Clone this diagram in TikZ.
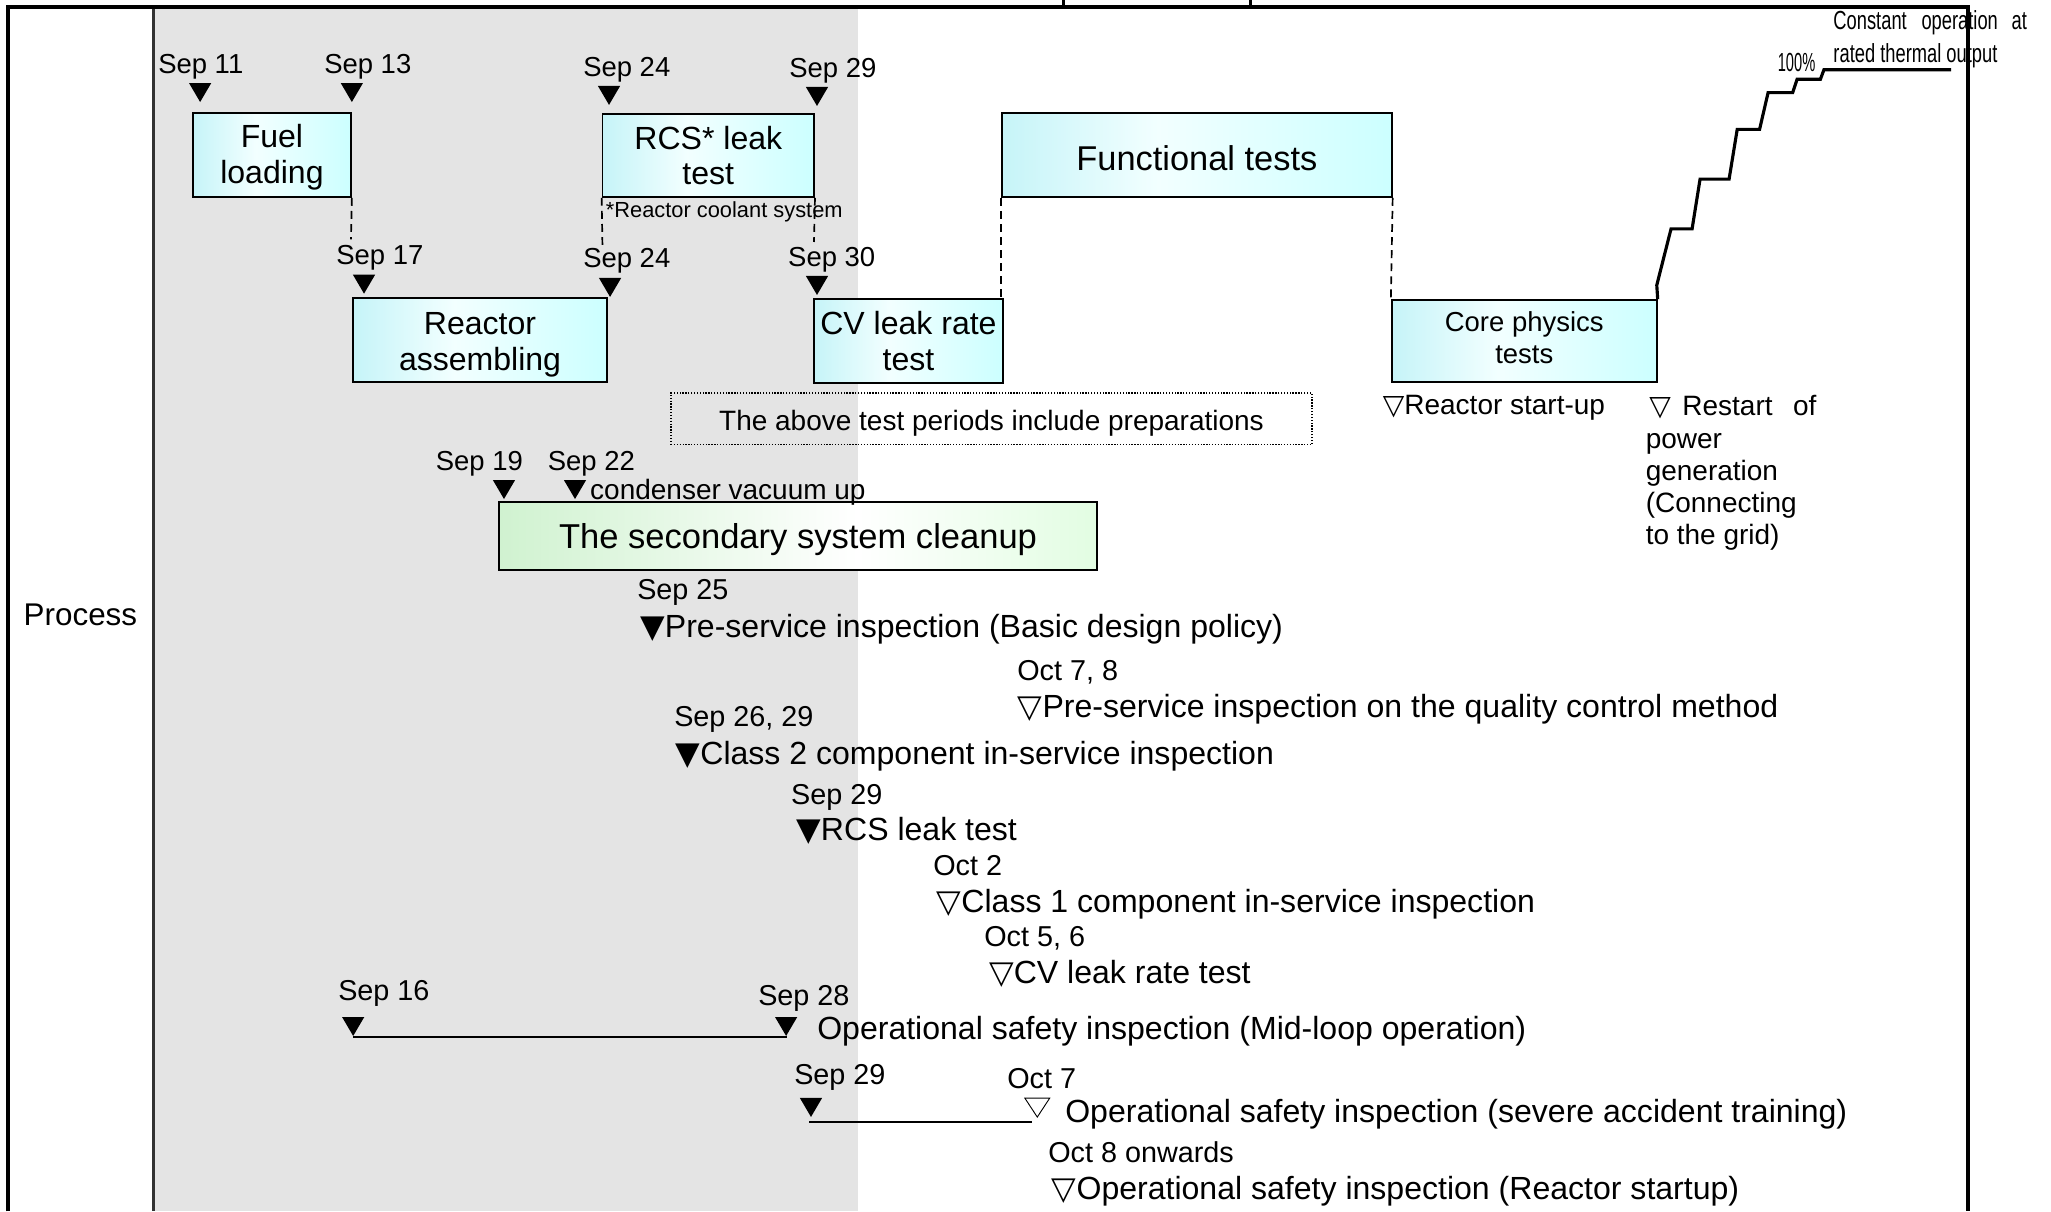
\documentclass[tikz,border=0pt]{standalone}
\usepackage{fontspec}
\setmainfont{Liberation Sans}
\newfontfamily\symf{DejaVu Sans}
\newfontfamily\narrowf[FakeStretch=0.70]{Liberation Sans}
\newfontfamily\narrowerf[FakeStretch=0.56]{Liberation Sans}
\newcommand\mytrifill{{\symf\char"25BC}}
\newcommand\mytriopen{{\symf\char"25BD}}
\definecolor{cyL}{RGB}{198,244,248}
\definecolor{cyM}{RGB}{242,255,255}
\definecolor{cyR}{RGB}{204,255,255}
\definecolor{grL}{RGB}{208,242,208}
\definecolor{grM}{RGB}{255,255,255}
\definecolor{grR}{RGB}{226,253,226}
\definecolor{bggrey}{RGB}{228,228,228}
\definecolor{divgrey}{RGB}{50,50,50}
\pgfdeclarehorizontalshading{cyanshade}{100bp}{color(0bp)=(cyL); color(25bp)=(cyL); color(45bp)=(cyM); color(75bp)=(cyR); color(100bp)=(cyR)}
\pgfdeclarehorizontalshading{greenshade}{100bp}{color(0bp)=(grL); color(25bp)=(grL); color(55bp)=(grM); color(75bp)=(grR); color(100bp)=(grR)}
\begin{document}
\begin{tikzpicture}[x=1pt,y=-1pt,
  stagebox/.style={draw=black, line width=1.4pt, shade, shading=cyanshade, inner sep=0pt, align=center, font=\fontsize{24.5}{27}\selectfont},
  greenbox/.style={draw=black, line width=1.4pt, shade, shading=greenshade, inner sep=0pt, font=\fontsize{26.4}{28}\selectfont},
  notebox/.style={draw=black, line width=0.9pt, dash pattern=on 1pt off 1.2pt, inner sep=0pt, font=\fontsize{21.4}{22}\selectfont},
  dashconn/.style={line width=1.3pt, dash pattern=on 6pt off 4pt},
  bar/.style={line width=1.6pt},
  stair/.style={line width=2.4pt},
  lbl/.style={anchor=base west, inner sep=0pt, font=\fontsize{21}{21}\selectfont},
  lblL/.style={anchor=base west, inner sep=0pt, font=\fontsize{22}{22}\selectfont},
  item/.style={anchor=base west, inner sep=0pt, font=\fontsize{24.5}{24.5}\selectfont},
  side/.style={anchor=base west, inner sep=0pt, font=\fontsize{21.4}{24.6}\selectfont},
  tridown/.pic={\fill (-8.5,0) -- (8.5,0) -- (0,14.5) -- cycle;}
]
\useasboundingbox (0,0) rectangle (1568,926);
% grey period background
\fill[bggrey] (117.4,5.5) rectangle (656,926);

% stage boxes
\node[stagebox, minimum width=120.8pt, minimum height=64.2pt] (fuel) at (207.9,118.5) {\rule{0pt}{21pt}Fuel\\loading};
\node[stagebox, minimum width=161.7pt, minimum height=63.1pt] (rcs) at (541.5,119) {RCS* leak\\test};
\node[stagebox, minimum width=298pt, minimum height=64.2pt, text height=23.5pt, text depth=0pt, font=\fontsize{26.3}{28}\selectfont] (ft) at (915,118.5) {Functional tests};
\node[stagebox, minimum width=194pt, minimum height=64pt] (reac) at (367,260) {\rule{0pt}{24pt}Reactor\\assembling};
\node[stagebox, minimum width=144.5pt, minimum height=64.2pt] (cv) at (694.5,260.7) {CV leak rate\\test};
\node[stagebox, minimum width=202.6pt, minimum height=62.4pt, font=\fontsize{21}{24.5}\selectfont] (core) at (1165.3,260.6) {Core physics\\tests\rule[-5.5pt]{0pt}{5.5pt}};
\node[greenbox, minimum width=457.2pt, minimum height=52pt, text height=19.7pt, text depth=0pt] (clean) at (610.1,409.8) {The secondary system cleanup};
\node[notebox, minimum width=490pt, minimum height=39.5pt, text height=17.5pt, text depth=0pt] (note) at (758,320.25) {The above test periods include preparations};
\node[anchor=base west, inner sep=0pt, font=\fontsize{16.7}{17}\selectfont] (rcsnote) at (463,166) {*Reactor coolant system};

% dashed links
\coordinate (fuelend) at (268.3,183);
\coordinate (rcsL) at (460.6,189.6);
\coordinate (rcsR) at (622.3,185);
\draw[dashconn] (fuel.south east) -- (fuelend);
\draw[dashconn] (rcs.south west) -- (rcsL);
\draw[dashconn] (rcs.south east) -- (rcsR);
\draw[dashconn] (ft.south west) -- (ft.south west |- cv.north);
\draw[dashconn] (ft.south east) -- (core.north west);

% power ramp
\coordinate (full) at (1491.7,53.3);
\draw[stair] (core.north east) -- (1266.6,218) -- (1277.5,175) -- (1293.6,175) -- (1299.7,136.9) -- (1321.9,136.9) -- (1328.1,98.9) -- (1345.2,98.9) -- (1351.7,70.8) -- (1370.5,70.8) -- (1373.9,60.6) -- (1391.7,60.6) -- (1394.4,53.3) -- (full);

% top-row date labels and markers
\node[lbl] (d11) at (120.8,56) {Sep 11};
\node[lbl] (d13) at (247.7,56) {Sep 13};
\node[lbl] (d24a) at (445.7,58.6) {Sep 24};
\node[lbl] (d29a) at (603.2,59.4) {Sep 29};
\node[lbl] (d17) at (256.9,202.4) {Sep 17};
\node[lbl] (d24b) at (445.7,204.6) {Sep 24};
\node[lbl] (d30) at (602.4,203.9) {Sep 30};
\pic at (153,63.5) {tridown};
\pic at (269,63.5) {tridown};
\pic at (465.6,65.7) {tridown};
\pic at (624.6,66.5) {tridown};
\pic at (278.3,210) {tridown};
\pic at (466.4,212.5) {tridown};
\pic at (624.6,211) {tridown};

% cleanup
\node[lbl] (d19) at (333,359.5) {Sep 19};
\node[lbl] (d22) at (418.6,359.5) {Sep 22};
\pic at (385.3,367) {tridown};
\pic at (439.6,367) {tridown};
\node[anchor=base west, inner sep=0pt, font=\fontsize{21.4}{22}\selectfont] (cond) at (451,381.5) {condenser vacuum up};

% inspections
\node[lblL] (d25) at (487,458.5) {Sep 25};
\node[item] (i1) at (489.3,487.7) {\mytrifill Pre-service inspection (Basic design policy)};
\node[lblL] (d78) at (777.5,520.4) {Oct 7, 8};
\node[item] (i2) at (778,548.8) {\mytriopen Pre-service inspection on the quality control method};
\node[lblL] (d2629) at (515.3,555.5) {Sep 26, 29};
\node[item] (i3) at (516.4,584.8) {\mytrifill Class 2 component in-service inspection};
\node[lblL] (d29b) at (604.7,615) {Sep 29};
\node[item] (i4) at (608.6,642.9) {\mytrifill RCS leak test};
\node[lblL] (do2) at (713.3,669) {Oct 2};
\node[item] (i5) at (716,697.9) {\mytriopen Class 1 component in-service inspection};
\node[lblL] (do56) at (752.3,723.5) {Oct 5, 6};
\node[item] (i6) at (756,752) {\mytriopen CV leak rate test};
\node[lblL] (d16) at (258.4,765) {Sep 16};
\node[lblL] (d28) at (579.5,769) {Sep 28};
\pic at (270,777.5) {tridown};
\pic at (601,777.5) {tridown};
\coordinate (b16) at (270,792.6);
\coordinate (b28) at (601.4,792.6);
\draw[bar] (b16) -- (b28);
\node[item] (i7) at (624.6,794.5) {Operational safety inspection (Mid-loop operation)};
\node[lblL] (d29c) at (607,829) {Sep 29};
\node[lblL] (do7) at (769.9,832) {Oct 7};
\pic at (620,839.4) {tridown};
\draw[line width=0.7pt] (783.5,839.5) -- (802.5,839.5) -- (793,854) -- cycle;
\coordinate (b29) at (618.5,858);
\coordinate (bo7) at (789,858);
\draw[bar] (b29) -- (bo7);
\node[item] (i8) at (814.2,858.3) {Operational safety inspection (severe accident training)};
\node[lblL] (do8) at (801.2,889) {Oct 8 onwards};
\node[item] (i9) at (804,917.3) {\mytriopen Operational safety inspection (Reactor startup)};

% right side
\node[side] (start) at (1057,316.8) {\mytriopen Reactor start-up};
\node[side] (r1) at (1260.7,318) {\makebox[25.3pt][l]{\mytriopen}Restart\hspace{15.7pt}of};
\node[side] (r2) at (1258,342.6) {power};
\node[side] (r3) at (1258,367.2) {generation};
\node[side] (r4) at (1258,391.8) {(Connecting};
\node[side] (r5) at (1258,416.3) {to the grid)};
\node[anchor=base west, inner sep=0pt, font=\narrowf\fontsize{20}{22}\selectfont] (const) at (1401.5,22.5) {Constant\hspace{11.3pt}operation\hspace{10.5pt}at};
\node[anchor=base west, inner sep=0pt, font=\narrowf\fontsize{20}{22}\selectfont] (rated) at (1401.5,47.5) {rated thermal output};
\node[anchor=base east, inner sep=0pt, font=\narrowerf\fontsize{20}{22}\selectfont] (pct) at (1388,55) {100\%};

% left column
\node[inner sep=0pt, font=\fontsize{24}{24}\selectfont] (proc) at (61.5,470) {Process};

% frame
\draw[divgrey, line width=2pt] (117.4,5.5) -- (117.4,926);
\draw[line width=3pt] (6.1,926) -- (6.1,5.5) -- (1504.5,5.5) -- (1504.5,926);
\draw[line width=2pt] (813,0) -- (813,5.5);
\draw[line width=2pt] (956,0) -- (956,5.5);
\end{tikzpicture}
\end{document}
